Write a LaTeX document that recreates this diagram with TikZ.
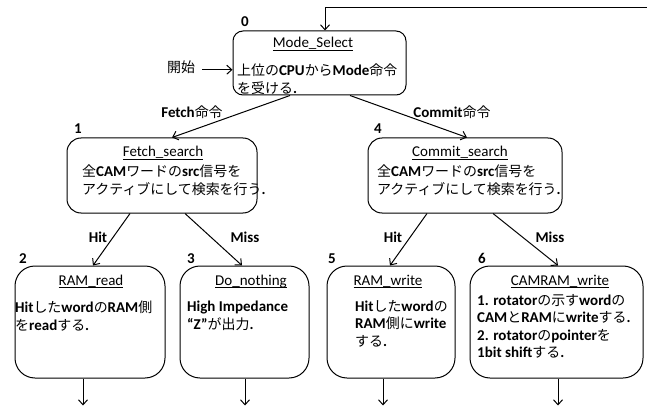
\documentclass[tikz,border=0pt]{standalone}
\usepackage{fontspec}
\setmainfont{Carlito}
\newfontfamily\jpf{Noto Sans CJK JP}[Scale=0.93]
\newcommand\J[1]{{\jpf\mdseries #1}}
% state name, underlined close to the baseline
\newcommand\stname[1]{\setbox0\hbox{#1}\rlap{\rule[-2.6pt]{\wd0}{0.8pt}}\box0}
\usetikzlibrary{arrows.meta}
\tikzset{
  stbox/.style={draw, line width=1pt, rounded corners=#1, inner sep=0pt},
  stbox/.default=10pt,
  ttl/.style={anchor=base, inner sep=0pt, font=\fontsize{15}{18}\selectfont},
  body/.style={anchor=north west, align=left, inner sep=0pt, font=\bfseries\fontsize{15}{17.5}\selectfont},
  lbl/.style={anchor=base, inner sep=0pt, font=\bfseries\fontsize{15}{18}\selectfont},
  arr/.style={line width=1pt, -{Straight Barb[length=5pt,width=9pt]}}
}
\begin{document}
\begin{tikzpicture}[x=1pt,y=-1pt]
  \useasboundingbox (0,0) rectangle (647,406);
  % states
  \node[stbox, minimum width=173pt, minimum height=64pt] (mode) at (319.5,63) {};
  \node[stbox=14pt, minimum width=190pt, minimum height=75pt] (fetch) at (162,175.5) {};
  \node[stbox=14pt, minimum width=194pt, minimum height=75pt] (commit) at (465,175.5) {};
  \node[stbox=20pt, minimum width=150pt, minimum height=112pt] (read) at (90,322) {};
  \node[stbox=20pt, minimum width=129pt, minimum height=112pt] (nothing) at (244.5,322) {};
  \node[stbox=20pt, minimum width=128pt, minimum height=112pt] (write) at (391,322) {};
  \node[stbox=20pt, minimum width=173pt, minimum height=112pt] (camram) at (556.5,322) {};
  % state names
  \node[ttl] (modeT) at (313,48) {\stname{Mode\_Select}};
  \node[ttl] (fetchT) at (163,157) {\stname{Fetch\_search}};
  \node[ttl] (commitT) at (460,157) {\stname{Commit\_search}};
  \node[ttl] (readT) at (91,285) {\stname{RAM\_read}};
  \node[ttl] (nothingT) at (251,285) {\stname{Do\_nothing}};
  \node[ttl] (writeT) at (388,285) {\stname{RAM\_write}};
  \node[ttl] (camramT) at (560,285) {\stname{CAMRAM\_write}};
  % what each state does
  \node[body] (modeB) at (237,64) {\J{上位の}CPU\J{から}Mode\J{命令}\\\J{を受ける}.};
  \node[body] (fetchB) at (82,165) {\J{全}CAM\J{ワードの}src\J{信号を}\\\J{アクティブにして検索を行う}.};
  \node[body] (commitB) at (377,165) {\J{全}CAM\J{ワードの}src\J{信号を}\\\J{アクティブにして検索を行う}.};
  \node[body] (readB) at (15,301) {Hit\J{した}word\J{の}RAM\J{側}\\\J{を}read\J{する}.};
  \node[body] (nothingB) at (187,301) {High Impedance\\“Z”\J{が出力}.};
  \node[body] (writeB) at (355,300) {Hit\J{した}word\J{の}\\RAM\J{側に}write\\\J{する}.};
  \node[body] (camramB) at (477,294) {1. rotator\J{の示す}word\J{の}\\CAM\J{と}RAM\J{に}write\J{する}.\\2. rotator\J{の}pointer\J{を}\\1bit shift\J{する}.};
  % state numbers
  \node[lbl] (n0) at (245,27) {0};
  \node[lbl] (n1) at (78,134) {1};
  \node[lbl] (n4) at (378,134) {4};
  \node[lbl] (n2) at (23,263) {2};
  \node[lbl] (n3) at (191,263) {3};
  \node[lbl] (n5) at (332,263) {5};
  \node[lbl] (n6) at (482,263) {6};
  % entry and loop back
  \node[lbl] (start) at (181,73) {\J{開始}};
  \draw[arr] ([xshift=7pt,yshift=-2pt]start.east) -- ([yshift=-2pt]start.east -| mode.west);
  \coordinate (loop) at (647,8);
  \draw[arr] (loop) -| ([xshift=5.5pt]mode.north);
  % transitions
  \draw[arr] ([xshift=-29.5pt]mode.south) -- ([xshift=10pt]fetch.north);
  \draw[arr] ([xshift=30.5pt]mode.south) -- ([xshift=2pt]commit.north);
  \draw[arr] ([xshift=-32pt]fetch.south) -- ([xshift=3pt]read.north);
  \draw[arr] ([xshift=23pt]fetch.south) -- ([xshift=-2.5pt]nothing.north);
  \draw[arr] ([xshift=-38pt]commit.south) -- ([xshift=-1pt]write.north);
  \draw[arr] ([xshift=28pt]commit.south) -- ([xshift=1.5pt]camram.north);
  \node[lbl] (fcmd) at (192,118) {Fetch\J{命令}};
  \node[lbl] (ccmd) at (452,118) {Commit\J{命令}};
  \node[lbl] (hit1) at (98,242) {Hit};
  \node[lbl] (miss1) at (245,242) {Miss};
  \node[lbl] (hit2) at (393,242) {Hit};
  \node[lbl] (miss2) at (550,242) {Miss};
  % outputs
  \draw[arr] ([xshift=-7pt]read.south) -- ++(0,27);
  \draw[arr] ([xshift=0.5pt]nothing.south) -- ++(0,27);
  \draw[arr] ([xshift=-8pt]write.south) -- ++(0,27);
  \draw[arr] ([xshift=1.5pt]camram.south) -- ++(0,27);
\end{tikzpicture}
\end{document}
